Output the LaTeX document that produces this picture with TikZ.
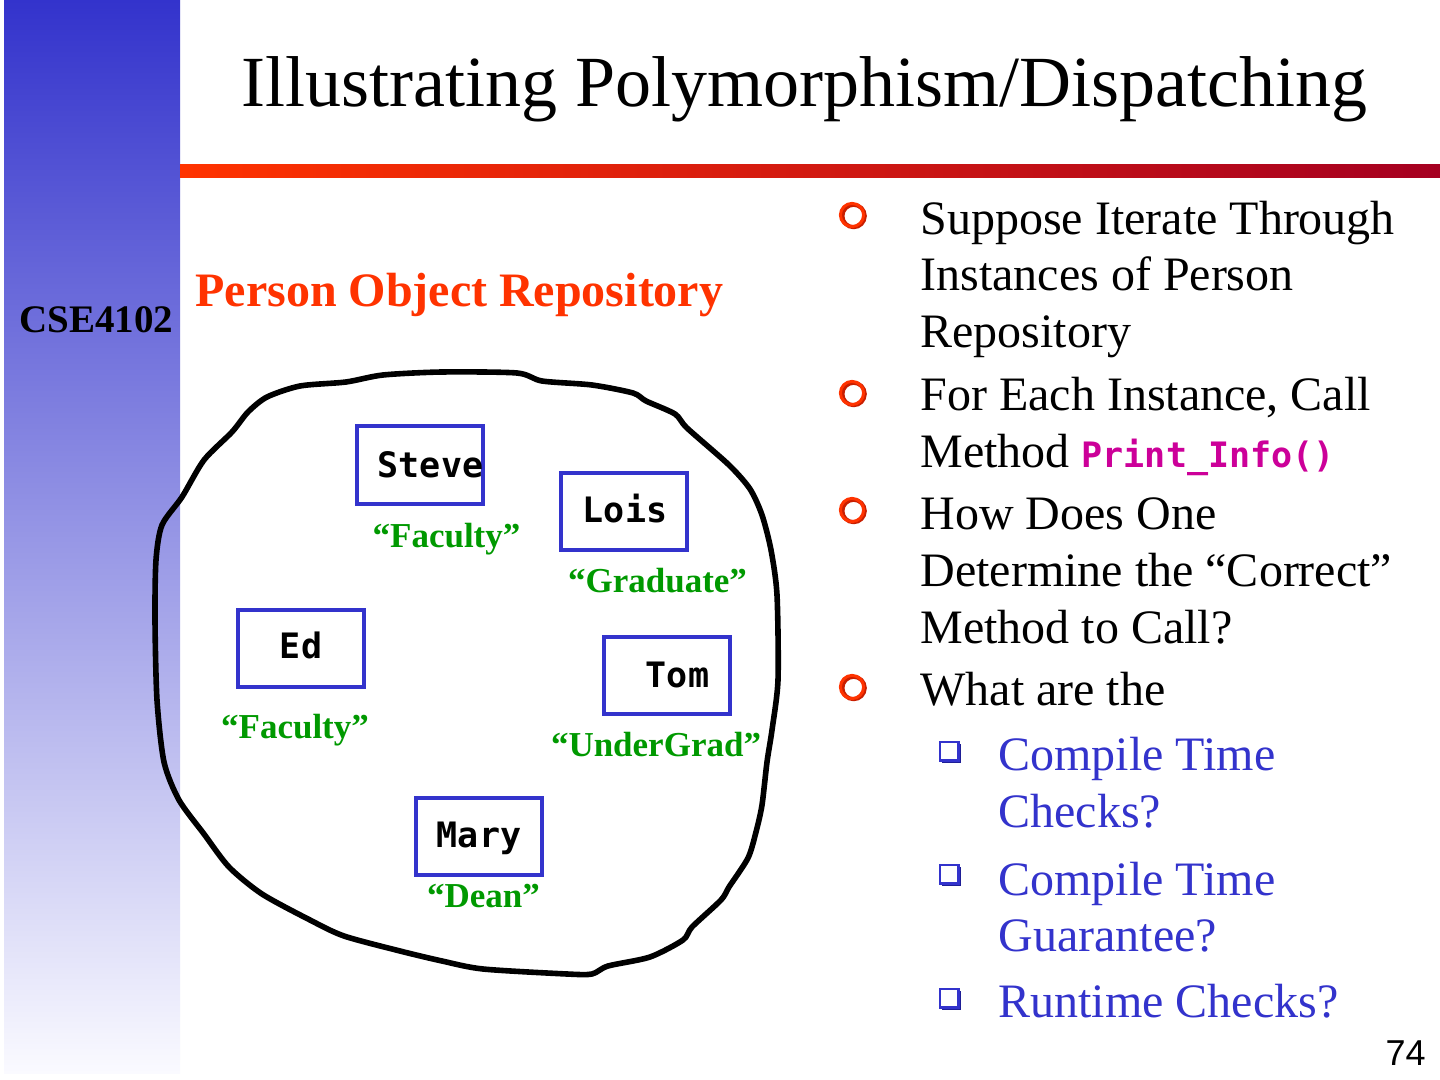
\documentclass[tikz,border=0pt]{standalone}
\usepackage{fontspec}
\setmainfont{Liberation Serif}
\newfontfamily\monob{DejaVu Sans Mono}
\newfontfamily\sansf{Liberation Sans}
\definecolor{sbTop}{RGB}{51,51,204}
\definecolor{sbBot}{RGB}{250,250,255}
\definecolor{barL}{RGB}{255,51,0}
\definecolor{barR}{RGB}{165,0,33}
\definecolor{headred}{RGB}{255,51,0}
\definecolor{bulletred}{RGB}{255,51,0}
\definecolor{bulletshadow}{RGB}{200,30,0}
\definecolor{subblue}{RGB}{51,51,204}
\definecolor{subshadow}{RGB}{30,30,150}
\definecolor{boxblue}{RGB}{51,51,204}
\definecolor{rolegreen}{RGB}{0,153,0}
\definecolor{codemag}{RGB}{204,0,153}
\tikzset{
  bodytext/.style={anchor=base west, inner sep=0pt, font=\fontsize{24pt}{28pt}\selectfont},
  subtext/.style={bodytext, text=subblue},
  objbox/.style={draw=boxblue, line width=2pt, minimum width=63pt, minimum height=38.5pt, inner sep=0pt},
  nametext/.style={anchor=base, inner sep=0pt, font=\monob\bfseries\fontsize{17.5pt}{20pt}\selectfont},
  roletext/.style={anchor=base, inner sep=0pt, text=rolegreen, font=\bfseries\fontsize{17.5pt}{20pt}\selectfont},
  blobline/.style={line width=2.8pt, line join=round},
  circmark/.pic={
    \draw[line width=2pt, bulletshadow] (0.8pt,-0.5pt) circle[radius=5.6pt];
    \draw[line width=1.5pt, bulletred] (0,0) circle[radius=5.8pt];
  },
  sqmark/.pic={
    \fill[subshadow] (-3.8pt,-5.6pt) rectangle (5.6pt,3.8pt);
    \draw[line width=1.3pt, subblue, fill=white] (-5pt,-4.3pt) rectangle (4.3pt,5pt);
  }
}
\begin{document}
\begin{tikzpicture}[x=0.5pt,y=-0.5pt]
\useasboundingbox (0,0) rectangle (1440,1080);
\fill[white] (0,0) rectangle (1440,1080);
% sidebar
\shade[top color=sbTop, bottom color=sbBot] (4,0) rectangle (180,1073);
% red bar
\shade[left color=barL, right color=barR] (180,165) rectangle (1440,178);
% title
\node[anchor=base, inner sep=0pt, font=\fontsize{36pt}{40pt}\selectfont] (title) at (804,107) {Illustrating Polymorphism/Dispatching};
\node[anchor=base west, inner sep=0pt, font=\bfseries\fontsize{19.5pt}{22pt}\selectfont] (course) at (19,333) {CSE4102};
\node[anchor=base west, inner sep=0pt, text=headred, font=\bfseries\fontsize{24pt}{28pt}\selectfont] (repohead) at (195,307) {Person Object Repository};
% blob
\draw[blobline] plot[smooth cycle, tension=0.45] coordinates {
 (267,397) (300,386) (346,382) (383,375) (442,372) (517,373) (542,381) (592,385)
 (633,393) (646,401) (675,414) (687,428) (729,465) (750,489) (762,515) (771,550)
 (777,595) (778,680) (772,730) (767,762) (762,805) (756,832) (748,858) (729,887)
 (721,900) (692,927) (683,940) (650,957) (608,966) (592,974) (567,974) (483,969)
 (442,961) (400,951) (344,936) (310,920) (262,894) (229,867) (204,834) (179,800)
 (164,762) (157,700) (155,620) (156,560) (162,525) (182,497) (204,460) (232,432) (248,412)};
% objects
\node[objbox] (steveBox) at (419.5,465) {};
\node[nametext] (steve) at (430.5,477) {Steve};
\node[objbox] (loisBox) at (624,511) {};
\node[nametext] (lois) at (625,522) {Lois};
\node[objbox] (edBox) at (300.5,648) {};
\node[nametext] (ed) at (301,658) {Ed};
\node[objbox] (tomBox) at (666.5,675.5) {};
\node[nametext] (tom) at (677.5,687) {Tom};
\node[objbox] (maryBox) at (478.5,836.5) {};
\node[nametext] (mary) at (479,847) {Mary};
% roles
\node[roletext] (role1) at (446.5,547) {“Faculty”};
\node[roletext] (role2) at (657.5,592) {“Graduate”};
\node[roletext] (role3) at (295,738) {“Faculty”};
\node[roletext] (role4) at (656,756) {“UnderGrad”};
\node[roletext] (role5) at (483.5,907) {“Dean”};
% bullets
\pic at (852,215) {circmark};
\pic at (852,393) {circmark};
\pic at (852,510) {circmark};
\pic at (852,687) {circmark};
\node[bodytext] (l1) at (920,235) {Suppose Iterate Through};
\node[bodytext] (l2) at (920,291) {Instances of Person};
\node[bodytext] (l3) at (920,348) {Repository};
\node[bodytext] (l4) at (920,411) {For Each Instance, Call};
\node[bodytext] (l5) at (920,467) {Method {\monob\bfseries\fontsize{17.5pt}{20pt}\selectfont\color{codemag}Print\_Info()}};
\node[bodytext] (l6) at (920,529) {How Does One};
\node[bodytext] (l7) at (920,586) {Determine the “Correct”};
\node[bodytext] (l8) at (920,643) {Method to Call?};
\node[bodytext] (l9) at (920,705) {What are the};
% sub bullets
\pic at (950,752) {sqmark};
\pic at (950,875) {sqmark};
\pic at (950,999) {sqmark};
\node[subtext] (s1) at (998,770) {Compile Time};
\node[subtext] (s2) at (998,827) {Checks?};
\node[subtext] (s3) at (998,895) {Compile Time};
\node[subtext] (s4) at (998,951) {Guarantee?};
\node[subtext] (s5) at (998,1017) {Runtime Checks?};
% page number
\node[anchor=base east, inner sep=0pt, font=\sansf\fontsize{18pt}{20pt}\selectfont] (pagenum) at (1426,1065) {74};
\end{tikzpicture}
\end{document}
